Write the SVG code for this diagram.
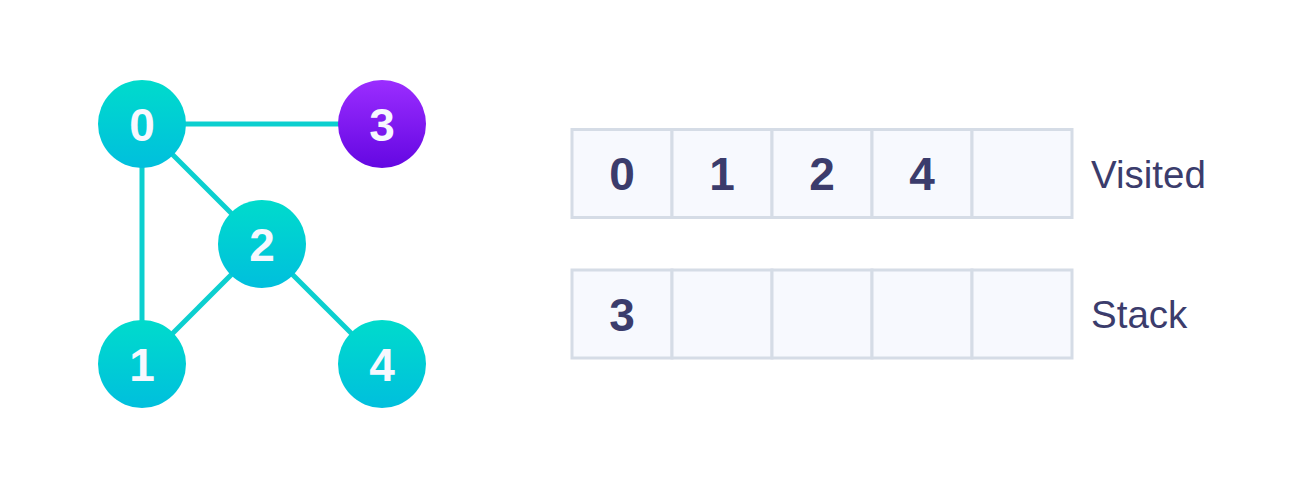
<svg xmlns="http://www.w3.org/2000/svg" width="1308" height="488" viewBox="0 0 1308 488">
<style>
.edge{stroke:#0ccfcf;stroke-width:5;fill:none}
.node{stroke:none}
.nl{font-family:"Liberation Sans",Arial,sans-serif;font-weight:bold;font-size:46px;fill:#f7f8ff;text-anchor:middle}
.cell{fill:#f7f9fe;stroke:#d5dce6;stroke-width:3}
.cv{font-family:"Liberation Sans",Arial,sans-serif;font-weight:bold;font-size:46px;fill:#3b3c6c;text-anchor:middle}
.lab{font-family:"Liberation Sans",Arial,sans-serif;font-size:38.5px;fill:#3b3c6c}
</style>
<defs>
<linearGradient id="gt" x1="0" y1="0" x2="0" y2="1">
<stop offset="0" stop-color="#00dbcc"/>
<stop offset="1" stop-color="#00bfdd"/>
</linearGradient>
<linearGradient id="gp" x1="0" y1="0" x2="0" y2="1">
<stop offset="0" stop-color="#9b2dff"/>
<stop offset="1" stop-color="#6407e2"/>
</linearGradient>
</defs>
<rect width="1308" height="488" fill="#ffffff"/>
<g id="connectors">
<line class="edge" x1="142" y1="124" x2="382" y2="124"/>
<line class="edge" x1="142" y1="124" x2="142" y2="364"/>
<line class="edge" x1="142" y1="124" x2="262" y2="244"/>
<line class="edge" x1="262" y1="244" x2="142" y2="364"/>
<line class="edge" x1="262" y1="244" x2="382" y2="364"/>
</g>
<g id="node0"><circle class="node" cx="142" cy="124" r="44" fill="url(#gt)"/><text class="nl" x="142" y="141">0</text></g>
<g id="node3"><circle class="node" cx="382" cy="124" r="44" fill="url(#gp)"/><text class="nl" x="382" y="141">3</text></g>
<g id="node2"><circle class="node" cx="262" cy="244" r="44" fill="url(#gt)"/><text class="nl" x="262" y="261">2</text></g>
<g id="node1"><circle class="node" cx="142" cy="364" r="44" fill="url(#gt)"/><text class="nl" x="142" y="381">1</text></g>
<g id="node4"><circle class="node" cx="382" cy="364" r="44" fill="url(#gt)"/><text class="nl" x="382" y="381">4</text></g>
<g id="visited">
<rect class="cell" x="572" y="129.5" width="100" height="88"/>
<rect class="cell" x="672" y="129.5" width="100" height="88"/>
<rect class="cell" x="772" y="129.5" width="100" height="88"/>
<rect class="cell" x="872" y="129.5" width="100" height="88"/>
<rect class="cell" x="972" y="129.5" width="100" height="88"/>
<text class="cv" x="622" y="190">0</text>
<text class="cv" x="722" y="190">1</text>
<text class="cv" x="822" y="190">2</text>
<text class="cv" x="922" y="190">4</text>
<text class="lab" x="1091" y="188">Visited</text>
</g>
<g id="stack">
<rect class="cell" x="572" y="270" width="100" height="88"/>
<rect class="cell" x="672" y="270" width="100" height="88"/>
<rect class="cell" x="772" y="270" width="100" height="88"/>
<rect class="cell" x="872" y="270" width="100" height="88"/>
<rect class="cell" x="972" y="270" width="100" height="88"/>
<text class="cv" x="622" y="331">3</text>
<text class="lab" x="1091" y="328">Stack</text>
</g>
</svg>
